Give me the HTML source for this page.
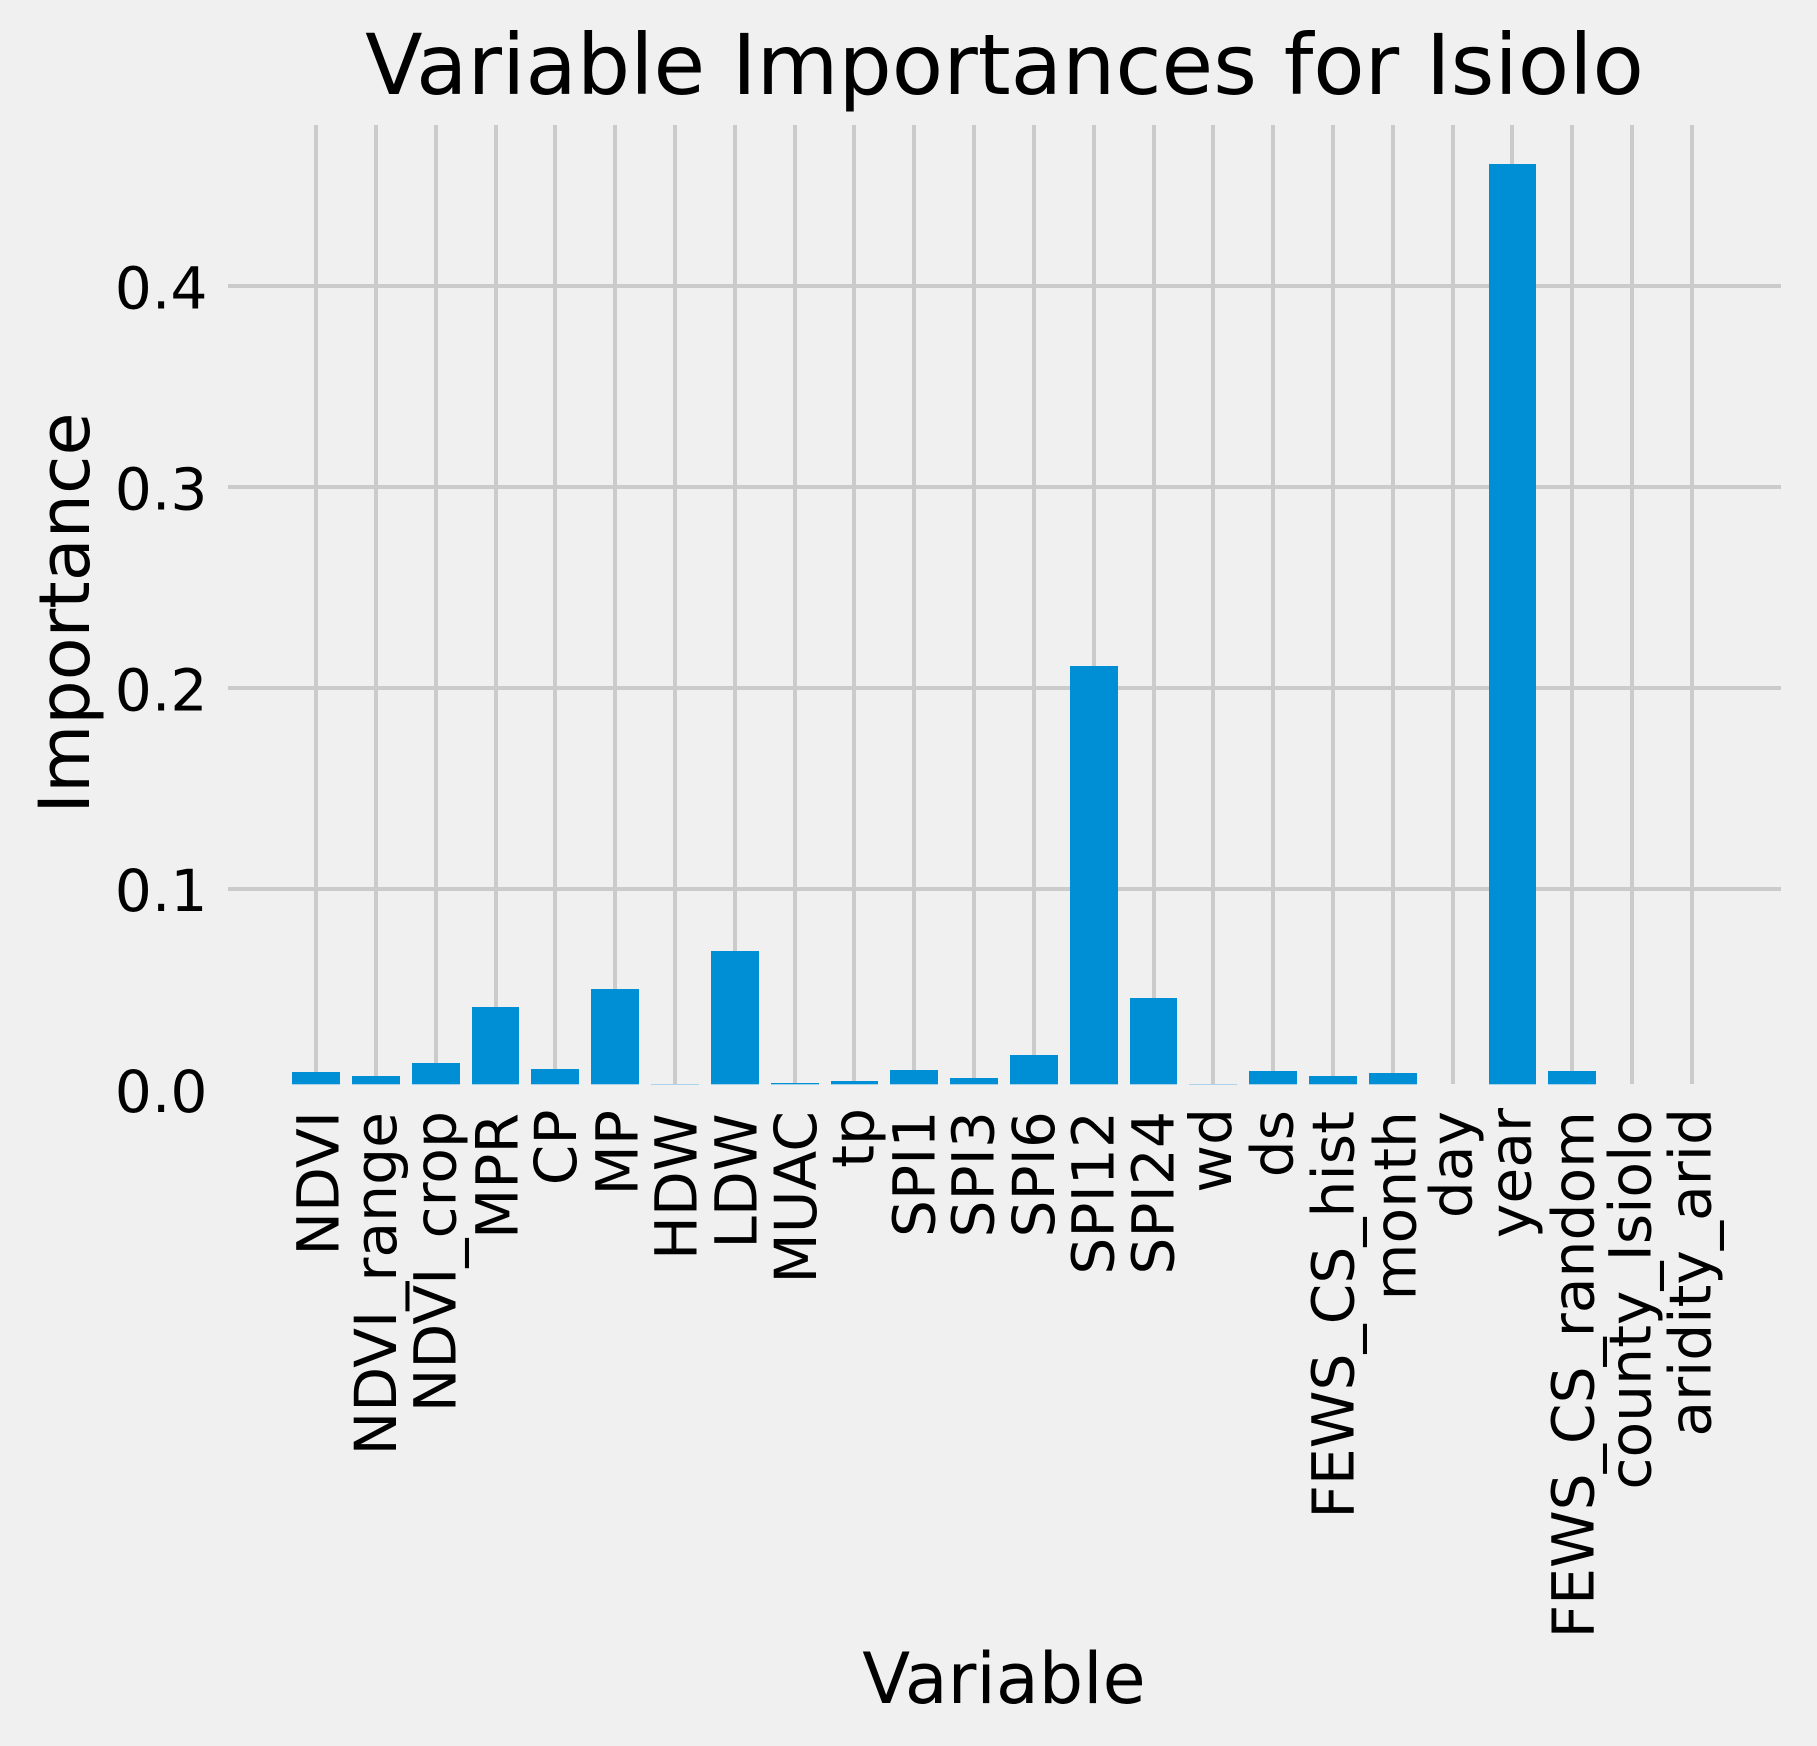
<!DOCTYPE html>
<html>
<head>
<meta charset="utf-8">
<title>Variable Importances for Isiolo</title>
<style>
  html, body { margin: 0; padding: 0; background: #f0f0f0; }
  svg { display: block; }
  text { font-family: "DejaVu Sans", "Liberation Sans", sans-serif; fill: #000; }
</style>
</head>
<body>
<svg id="chart" xmlns="http://www.w3.org/2000/svg" width="1817" height="1746" viewBox="0 0 1817 1746">
  <rect x="0" y="0" width="1817" height="1746" fill="#f0f0f0"/>
  <g id="grid"></g>
  <g id="bars"></g>
  <g id="yticks"></g>
  <g id="xticks"></g>
  <text x="1004.5" y="94" font-size="84" text-anchor="middle">Variable Importances for Isiolo</text>
  <text x="1004" y="1703" font-size="70" text-anchor="middle">Variable</text>
  <text transform="translate(89 613) rotate(-90)" font-size="70" text-anchor="middle">Importance</text>
</svg>
<script>
const categories = ["NDVI","NDVI_range","NDVI_crop","MPR","CP","MP","HDW","LDW","MUAC","tp","SPI1","SPI3","SPI6","SPI12","SPI24","wd","ds","FEWS_CS_hist","month","day","year","FEWS_CS_random","county_Isiolo","aridity_arid"];
const importances = [0.00876,0.00677,0.01324,0.0411,0.01025,0.0501,0.00279,0.0690,0.00329,0.00428,0.00976,0.00577,0.01722,0.2108,0.0456,0.00279,0.00926,0.00677,0.00826,0,0.4607,0.00926,0,0];
const yTickValues = [0, 0.1, 0.2, 0.3, 0.4];
const yTickLabels = ["0.0", "0.1", "0.2", "0.3", "0.4"];

const NS = "http://www.w3.org/2000/svg";
const plotLeft = 228, plotRight = 1781, plotTop = 125, plotBottom = 1084.3;
function xScale(i) { return 316.05 + 59.82 * i; }
function yScale(v) { return 1089.6 - 2009 * v; }
function make(tag, attrs) {
  const el = document.createElementNS(NS, tag);
  for (const k in attrs) el.setAttribute(k, attrs[k]);
  return el;
}
/* matplotlib centres each rotated label's own bounding box on its tick, so
   the baseline offset depends on the glyphs in the label. */
function labelBaselineOffset(name) {
  const offsets = { NDVI: 22.6, NDVI_range: 20.2, NDVI_crop: 19.7, MPR: 22.2, CP: 20.7, MP: 22.5, HDW: 21.4, LDW: 21.6, MUAC: 21.4, tp: 18.9, SPI1: 20.1, SPI3: 19.3, SPI6: 20.1, SPI12: 19.7, SPI24: 19.8, wd: 17.7, ds: 19.5, FEWS_CS_hist: 20.6, month: 22.9, day: 18.9, year: 18.1, FEWS_CS_random: 21.1, county_Isiolo: 18.5, aridity_arid: 18.6 };
  return name in offsets ? offsets[name] : 20.5;
}
function labelEndY(name) {
  const ends = { tp: 1108, wd: 1108, aridity_arid: 1108, year: 1108, MP: 1110, CP: 1109.5, HDW: 1113.5, LDW: 1113.5, MPR: 1113, SPI1: 1110.5, ds: 1110, county_Isiolo: 1110, NDVI_range: 1112 };
  return name in ends ? ends[name] : 1111;
}
const gridG = document.getElementById("grid");
const barsG = document.getElementById("bars");
const yG = document.getElementById("yticks");
const xG = document.getElementById("xticks");
const gridColor = "#cbcbcb";

yTickValues.forEach(function (v, i) {
  const y = yScale(v);
  if (y < plotBottom) {
    const py = Math.round(y);
    const line = make("rect", { x: plotLeft, y: py - 2, width: plotRight - plotLeft, height: 4, fill: gridColor });
    
    
    gridG.appendChild(line);
  }
  const t = make("text", { x: 207.5, y: y + 22.5, "font-size": 58.33, "text-anchor": "end" });
  
  
  t.textContent = yTickLabels[i];
  yG.appendChild(t);
});

categories.forEach(function (name, i) {
  const cx = xScale(i);
  const gx = Math.round(cx);
  const line = make("rect", { x: gx - 2, y: plotTop, width: 4, height: 1084 - plotTop, fill: gridColor });
  
  
  gridG.appendChild(line);

  const left = Math.round(cx - 0.4 * 59.82);
  const right = Math.round(cx + 0.4 * 59.82);
  const top = Math.round(yScale(importances[i]));
  const h = plotBottom - top;
  if (h > 0) {
    const bar = make("rect", { x: left, y: top, width: right - left, height: h, fill: "#008fd5" });
    
    
    barsG.appendChild(bar);
  }

  const t = make("text", { transform: "translate(" + (cx + labelBaselineOffset(name)) + " " + labelEndY(name) + ") rotate(-90)", "font-size": 58.33, "text-anchor": "end" });
  
  
  t.textContent = name;
  xG.appendChild(t);
});
</script>
</body>
</html>
